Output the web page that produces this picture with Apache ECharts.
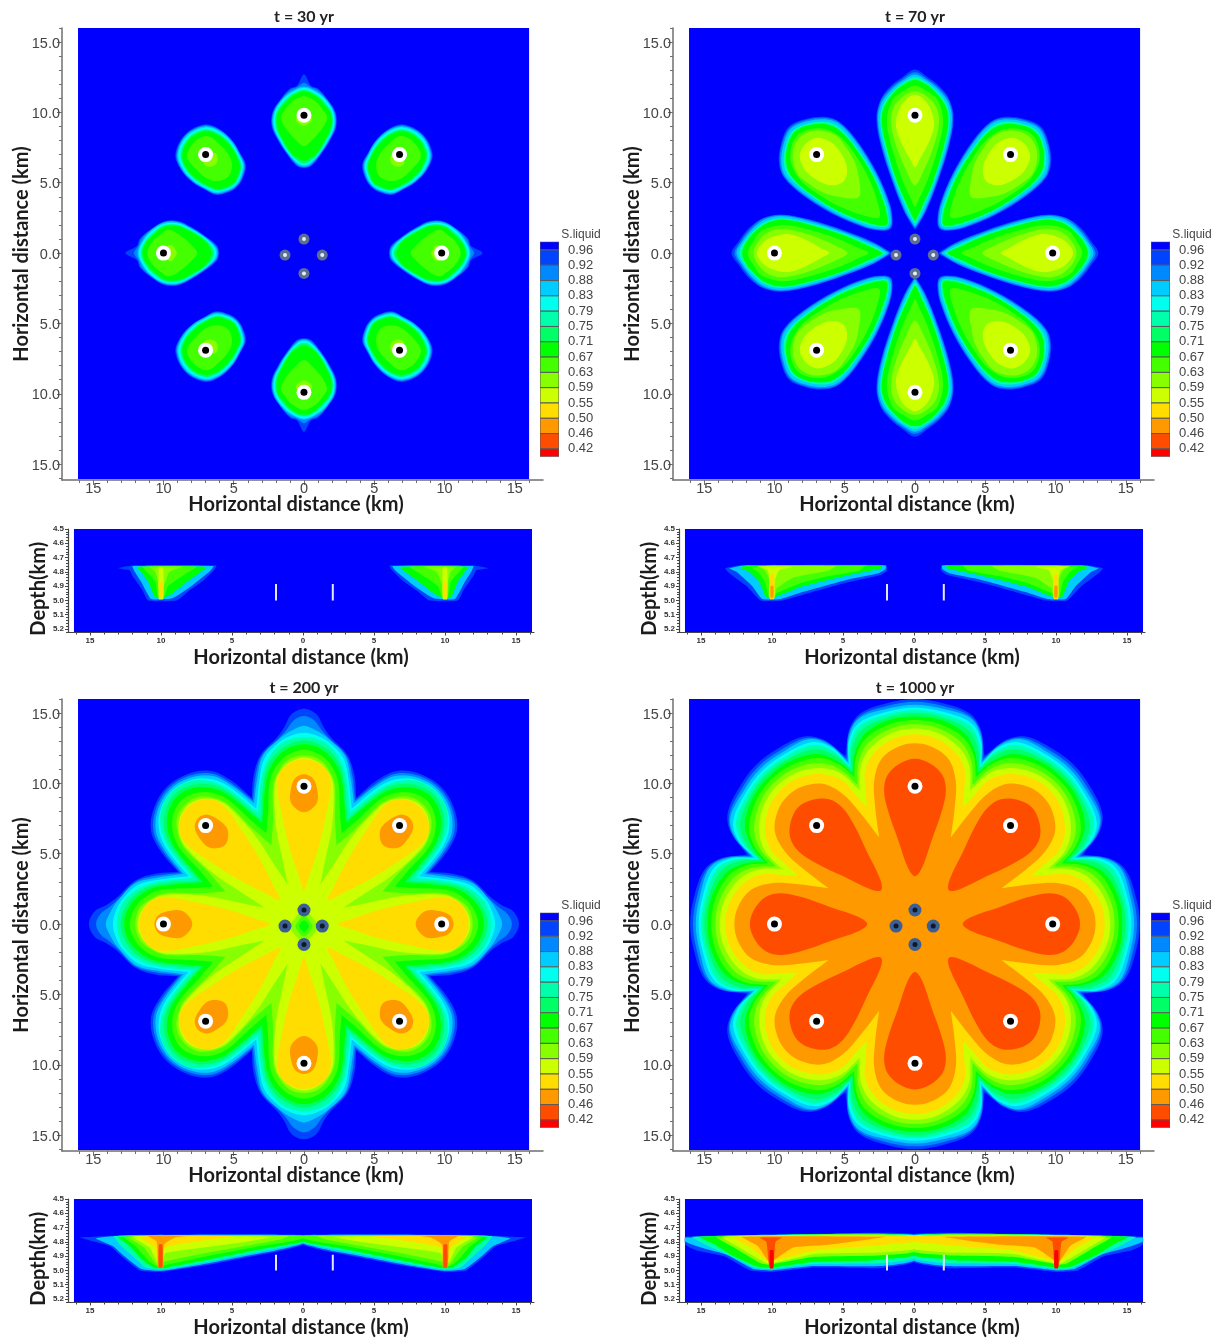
<!DOCTYPE html>
<html><head><meta charset="utf-8">
<style>html,body{margin:0;padding:0;background:#fff}#c{width:1225px;height:1339px}#c canvas{filter:blur(0.55px)}</style>
<script src="https://cdn.jsdelivr.net/npm/echarts@6/dist/echarts.min.js"></script>
</head><body><div id="c"></div>
<script>
const bandColors=['#0000ff','#0044ff','#0088ff','#00ccff','#00ffee','#00ffaa','#00ff66','#00ff00','#44ff00','#88ff00','#ccff00','#ffdd00','#ff9900','#ff4d00','#ff0000'];
const legendLabels=['0.96','0.92','0.88','0.83','0.79','0.75','0.71','0.67','0.63','0.59','0.55','0.50','0.46','0.42'];
const mapTicks=[-15,-10,-5,0,5,10,15];
const mapMinorTicks=[-16,-14,-13,-12,-11,-9,-8,-7,-6,-4,-3,-2,-1,1,2,3,4,6,7,8,9,11,12,13,14,16];
const depthTicks=[4.5,4.6,4.7,4.8,4.9,5.0,5.1,5.2];
const depthMinorTicks=[4.52,4.54,4.56,4.58,4.62,4.64,4.66,4.68,4.72,4.74,4.76,4.78,4.82,4.84,4.86,4.88,4.92,4.94,4.96,4.98,5.02,5.04,5.06,5.08,5.12,5.14,5.16,5.18,5.22];
const panelTitles=['t = 30 yr','t = 70 yr','t = 200 yr','t = 1000 yr'];
const wellsX=[0,6.8,9.8,6.8,0,-7,-10,-7];
const wellsY=[9.8,7,0,-6.9,-9.9,-6.9,0,7];
const innerX=[0,1.3,0,-1.35];
const innerY=[1,-0.14,-1.45,-0.14];
const wellTraceX=[2.1,-1.9];
const wellTraceTop=[4.885,4.885,4.89,4.89];
const wellTraceBottom=5.0;

// contour outlines in km: [distance along the lobe axis, distance across it]; a = N/E/S/W lobes, d = diagonal lobes
const t30Islands=[
{b:1,a:[[12.7,0],[11.9,.5],[11.7,1],[10.9,1.7],[10,2.25],[9,2.3],[8,1.85],[7,1.2],[6.2,.55],[6.05,0]],d:[[11.95,0],[11.45,1.5],[10.4,2],[9.2,2.05],[8.2,1.8],[7.35,1.5],[6.85,.7],[6.7,0]]},
{b:2,a:[[12.1,0],[11.8,.5],[11.6,1],[10.9,1.65],[10,2.2],[9,2.25],[8,1.8],[7,1.15],[6.25,.5],[6.1,0]],d:[[11.9,0],[11.4,1.45],[10.4,1.97],[9.2,2.02],[8.2,1.77],[7.4,1.47],[6.9,.7],[6.75,0]]},
{b:3,a:[[11.85,0],[11.5,.9],[10.9,1.6],[10,2.15],[9,2.2],[8,1.75],[7,1.1],[6.3,.45],[6.15,0]],d:[[11.85,0],[11.35,1.4],[10.35,1.92],[9.2,1.98],[8.2,1.72],[7.45,1.42],[6.95,.65],[6.8,0]]},
{b:4,a:[[11.75,0],[11.42,.87],[10.85,1.55],[10,2.07],[9,2.12],[8,1.68],[7,1.03],[6.38,.42],[6.25,0]],d:[[11.75,0],[11.3,1.33],[10.3,1.85],[9.2,1.9],[8.2,1.66],[7.5,1.35],[7.02,.62],[6.88,0]]},
{b:6,a:[[11.6,0],[11.3,.82],[10.7,1.47],[9.95,1.97],[9,2.02],[8,1.58],[7,.93],[6.5,.35],[6.4,0]],d:[[11.6,0],[11.2,1.22],[10.25,1.72],[9.2,1.78],[8.2,1.54],[7.52,1.22],[7.12,.55],[6.98,0]]},
{b:7,a:[[11.5,0],[11.2,.78],[10.6,1.4],[9.95,1.88],[9,1.92],[8,1.48],[7,.83],[6.65,.28],[6.55,0]],d:[[11.5,0],[11.1,1.15],[10.25,1.62],[9.2,1.68],[8.2,1.45],[7.55,1.12],[7.2,.5],[7.05,0]]},
{b:8,a:[[11.15,0],[10.75,.85],[10.1,1.4],[9.7,1.65],[9.2,1.5],[8.6,1.1],[8,.55],[7.6,0]],d:[[11.1,0],[10.75,1.02],[9.6,1.22],[8.6,1.12],[7.95,.7],[7.65,0]]},
{b:9,a:[[9.8,0],[9.7,.5],[9.4,.55],[9.15,.25],[9.05,0]],d:[[9.8,0],[9.6,.5],[9.3,.55],[9,.3],[8.9,0]]}
];
const t70Islands=[
{b:1,a:[[13.05,0],[12.5,.9],[11.8,1.8],[10.8,2.5],[9.5,2.75],[7.5,2.4],[5,1.6],[3,.8],[1.8,.12],[1.7,0]],d:[[12.7,0],[12.2,1.3],[11.4,2.3],[10.4,2.8],[8.6,2.75],[6,2.15],[3.8,1.25],[2.8,.55],[2.45,0]]},
{b:2,a:[[12.85,0],[12.4,.85],[11.7,1.75],[10.8,2.45],[9.5,2.7],[7.5,2.35],[5,1.55],[3,.75],[1.9,.1],[1.8,0]],d:[[12.6,0],[12.15,1.25],[11.35,2.25],[10.4,2.75],[8.6,2.7],[6,2.1],[3.8,1.2],[2.8,.5],[2.5,0]]},
{b:3,a:[[12.7,0],[12.3,.8],[11.6,1.7],[10.7,2.38],[9.5,2.63],[7.5,2.27],[5,1.47],[3,.67],[2,.1],[1.9,0]],d:[[12.5,0],[12.05,1.2],[11.25,2.2],[10.35,2.67],[8.6,2.62],[6,2.02],[3.8,1.12],[2.85,.45],[2.6,0]]},
{b:5,a:[[12.5,0],[12.15,.8],[11.45,1.62],[10.6,2.25],[9.45,2.48],[7.5,2.13],[5,1.35],[3.15,.58],[2.2,.1],[2.1,0]],d:[[12.3,0],[11.9,1.1],[11.1,2.1],[10.2,2.5],[8.5,2.42],[6,1.88],[3.9,1],[3,.38],[2.75,0]]},
{b:7,a:[[12.3,0],[12,.8],[11.35,1.55],[10.5,2.15],[9.4,2.38],[7.5,2.02],[5,1.25],[3.3,.5],[2.4,.08],[2.3,0]],d:[[12.15,0],[11.8,1.05],[10.95,2],[10,2.37],[8.4,2.3],[6,1.75],[4,.9],[3.1,.33],[2.85,0]]},
{b:8,a:[[11.9,0],[11.5,.85],[10.9,1.6],[9.4,2],[7.5,1.65],[5.2,.9],[3.9,.3],[3.3,0]],d:[[11.85,0],[11.45,1.05],[10.6,1.8],[9.3,2.1],[7.8,1.9],[6,1.4],[4.4,.65],[3.6,0]]},
{b:9,a:[[11.5,0],[11.1,.9],[10.3,1.55],[9.2,1.7],[7.5,1.3],[5.6,.5],[4.8,0]],d:[[11.6,0],[11.2,1.1],[10,1.9],[8.8,1.85],[7.5,1.5],[6.4,.8],[5.8,.3],[5.65,0]]},
{b:10,a:[[11.25,0],[10.8,.75],[10,1.2],[9,1.35],[7.8,.95],[6.6,.3],[6.1,0]],d:[[11,0],[10.7,.9],[9.8,1.35],[9,1.35],[8,1.05],[7.4,.55],[7.2,0]]}
];
const t200Merged=[
{b:1,a:[[15.3,0],[14.9,.9],[14,1.4],[13.3,1.9],[12,3.1],[10.5,3.6],[8.96,3.71]],d:[[13.8,0],[13.4,1.7],[12.4,3],[10.9,3.55],[8.96,3.71]]},
{b:2,a:[[14.8,0],[14.5,.7],[13.8,1.25],[13.2,1.8],[12,3],[10.5,3.45],[8.8,3.64]],d:[[13.65,0],[13.25,1.65],[12.25,2.9],[10.8,3.42],[8.8,3.64]]},
{b:3,a:[[14.1,0],[13.8,.8],[13.3,1.6],[12,2.9],[10.5,3.3],[8.6,3.56]],d:[[13.5,0],[13.1,1.6],[12.1,2.8],[10.7,3.3],[8.6,3.56]]},
{b:4,a:[[13.6,0],[13.4,.9],[12.9,1.8],[11.8,2.8],[10.4,3.15],[8.2,3.4]],d:[[13.35,0],[12.9,1.6],[11.9,2.65],[10.6,3.15],[8.2,3.4]]},
{b:5,a:[[13.3,0],[12.9,1.5],[11.8,2.5],[10.4,3],[7.9,3.27]]},
{b:6,a:[[13.05,0],[12.6,1.4],[11.6,2.4],[10.3,2.85],[7.5,3.1]]},
{b:7,a:[[12.8,0],[12.4,1.3],[11.4,2.25],[10.2,2.7],[7.2,2.98]]},
{b:8,a:[[12.4,0],[12,1.2],[11.1,2.05],[10,2.45],[8,2.55],[6.47,2.68]]},
{b:9,a:[[12,0],[11.7,1.1],[10.8,1.85],[9.8,2.2],[7.5,2.2],[5.6,2.32]]},
{b:10,a:[[11.85,0],[11.5,1.05],[10.7,1.8],[9.7,2.1],[7,2],[4.5,1.5],[2.8,1.16]]}
];
const t200Islands=[
{b:11,a:[[11.7,0],[11.4,1.1],[10.7,1.75],[9.7,1.9],[7.7,1.55],[5.5,1.05],[3.5,.4],[2.4,0]]},
{b:12,a:[[10.65,0],[10.35,.65],[9.5,.95],[8.7,.95],[8.15,.5],[7.95,0]]}
];
const t200Centre=[
{b:9,p:[[0,1],[.7,.35],[1,-.15],[.7,-.7],[0,-1.25],[-.7,-.7],[-1,-.15],[-.7,.35]]},
{b:8,p:[[0,.6],[.55,0],[.6,-.15],[.5,-.4],[0,-.9],[-.5,-.4],[-.6,-.15],[-.55,0]]},
{b:7,p:[[0,.25],[.35,-.15],[0,-.55],[-.35,-.15]]}
];
const t1000Merged=[
{b:1,a:[[16,0],[15.7,2],[15,3.85],[13.9,4.65],[11.95,4.95]]},
{b:2,a:[[15.8,0],[15.5,2],[14.8,3.9],[13.6,4.7],[11.75,4.86]]},
{b:3,a:[[15.6,0],[15.3,2],[14.6,4],[13.3,4.7],[11.55,4.78]]},
{b:4,a:[[15.4,0],[15.1,2],[14.3,4],[13,4.7],[11.35,4.7]]},
{b:5,a:[[15.2,0],[14.9,1.95],[14.1,3.9],[12.7,4.6],[11.2,4.63]]},
{b:6,a:[[15,0],[14.7,1.9],[13.8,3.8],[12.4,4.5],[11,4.55]]},
{b:7,a:[[14.75,0],[14.5,1.85],[13.5,3.6],[12.1,4.3],[10.7,4.44]]},
{b:8,a:[[14.5,0],[14.2,1.8],[13.2,3.5],[11.9,4.2],[10.45,4.33]]},
{b:9,a:[[14.2,0],[13.9,1.7],[12.9,3.3],[11.6,4],[9.9,4.1]]},
{b:10,a:[[13.9,0],[13.6,1.6],[12.6,3.1],[11.3,3.85],[9.5,3.94]]},
{b:11,a:[[13.5,0],[13.2,1.5],[12.2,2.9],[10.9,3.55],[9.5,3.5],[8.3,3.44]]},
{b:12,a:[[12.85,0],[12.6,1.2],[11.7,2.4],[10.2,2.9],[8.5,2.85],[6.15,2.55]]}
];
const t1000Islands=[
{b:13,a:[[11.75,0],[11.4,1.1],[10.6,1.95],[9.5,2.2],[8,1.9],[6,1.2],[4,.5],[3.4,0]]}
];
// cross-section outlines, [km from centre, depth km], mirrored about 0
const d30=[
{b:1,p:[[13.05,4.775],[12,4.755],[6.1,4.755],[6.2,4.78],[7,4.86],[8,4.93],[8.9,5],[10.9,5],[11.3,4.93],[12,4.83],[12.2,4.79]]},
{b:3,p:[[12,4.76],[6.3,4.76],[6.5,4.79],[8,4.91],[9.2,4.985],[10.7,4.99],[11.4,4.87],[11.9,4.79]]},
{b:7,p:[[11.7,4.765],[6.8,4.765],[7.2,4.8],[8.3,4.88],[9.5,4.97],[10.4,4.98],[10.9,4.87],[11.4,4.8]]},
{b:8,p:[[11.3,4.765],[7.5,4.765],[8.2,4.81],[9.5,4.9],[9.8,4.98],[10.2,4.98],[10.4,4.87],[11,4.8]]},
{b:9,p:[[10.8,4.765],[8.5,4.765],[9.4,4.8],[9.8,4.9],[9.85,4.99],[10.15,4.99],[10.2,4.88],[10.4,4.8]]},
{b:10,p:[[10.15,4.77],[9.85,4.77],[9.85,4.99],[10.15,4.99]]},
{b:11,p:[[10.1,4.87],[9.9,4.87],[9.9,4.98],[10.1,4.98]]}
];
const d70=[
{b:1,p:[[13.3,4.775],[12.3,4.755],[1.95,4.752],[1.9,4.79],[2.3,4.82],[4.7,4.875],[7.8,4.96],[9.3,5],[10.8,5],[11.8,4.9],[13,4.81]]},
{b:3,p:[[13,4.775],[12,4.755],[2,4.755],[2,4.78],[2.5,4.81],[4.7,4.855],[7.8,4.94],[9.4,4.99],[10.7,4.99],[11.4,4.9],[12.5,4.8]]},
{b:7,p:[[12.3,4.77],[11.8,4.76],[2.3,4.76],[2.3,4.775],[4.7,4.825],[7.8,4.9],[9.6,4.97],[10.4,4.98],[10.9,4.87],[11.6,4.8]]},
{b:8,p:[[11.5,4.765],[3.5,4.76],[3.8,4.79],[6,4.83],[8,4.88],[9.7,4.95],[10.2,4.98],[10.5,4.87],[11,4.8]]},
{b:9,p:[[11,4.76],[5.5,4.76],[6,4.79],[8.5,4.84],[9.7,4.92],[9.8,4.98],[10.2,4.98],[10.2,4.85],[10.5,4.79]]},
{b:10,p:[[10.8,4.765],[8.5,4.765],[9.5,4.79],[9.8,4.86],[9.85,4.97],[10.15,4.97],[10.15,4.86],[10.3,4.79]]},
{b:11,p:[[10.15,4.82],[9.85,4.82],[9.85,4.99],[10.15,4.99]]},
{b:12,p:[[10.1,4.9],[9.9,4.9],[9.9,4.98],[10.1,4.98]]}
];
const d200=[
{b:1,p:[[0,4.752],[12,4.752],[15.7,4.77],[15,4.79],[13.6,4.83],[12.8,4.9],[11.5,5],[10,5.01],[7.2,4.97],[3,4.89],[1.9,4.87],[0,4.82]]},
{b:3,p:[[0,4.755],[12.5,4.755],[14.6,4.775],[13.4,4.83],[12.6,4.9],[11.4,4.99],[10,5.003],[7.2,4.96],[3,4.88],[2,4.862],[0,4.812]]},
{b:5,p:[[0,4.757],[13.3,4.76],[12.8,4.83],[12,4.9],[11.1,4.98],[10,4.995],[7.2,4.95],[3,4.868],[0,4.806]]},
{b:7,p:[[0,4.76],[13,4.765],[12.2,4.83],[11.4,4.92],[10.5,4.98],[9.8,4.985],[7.2,4.935],[3,4.852],[0,4.8]]},
{b:8,p:[[0,4.76],[12.6,4.765],[11.8,4.83],[10.9,4.93],[10.2,4.975],[9.8,4.965],[7.2,4.91],[3,4.83],[1,4.8],[0,4.775]]},
{b:9,p:[[1,4.76],[12.3,4.765],[11.2,4.84],[10.4,4.95],[10.1,4.97],[9.8,4.94],[7.2,4.885],[3,4.81],[1.5,4.78]]},
{b:10,p:[[2.2,4.765],[12,4.762],[10.8,4.84],[10.3,4.94],[9.9,4.94],[9.7,4.88],[7,4.84],[4,4.8]]},
{b:11,p:[[5,4.76],[11.5,4.765],[10.4,4.84],[10.2,4.96],[9.9,4.96],[9.7,4.84],[7,4.79],[5.5,4.77]]},
{b:12,p:[[8.2,4.76],[10.9,4.76],[10.3,4.8],[10.2,4.98],[9.85,4.98],[9.8,4.82],[9,4.77]]},
{b:13,p:[[9.9,4.82],[10.15,4.82],[10.15,4.98],[9.9,4.98]]}
];
const d1000=[
{b:1,p:[[0,4.745],[10,4.752],[16.1,4.765],[16.1,4.82],[15.3,4.86],[13.4,4.9],[11.55,5],[9.9,5.01],[7.1,4.98],[2.4,4.985],[2,4.98],[0,4.94]]},
{b:3,p:[[0,4.75],[16.1,4.77],[16.1,4.8],[15,4.84],[13.2,4.89],[11.3,4.99],[10,5],[7.1,4.97],[2.4,4.97],[0,4.93]]},
{b:5,p:[[0,4.752],[15.6,4.765],[14.5,4.83],[13,4.895],[11.1,4.985],[10,4.99],[7,4.955],[2.4,4.95],[0,4.915]]},
{b:7,p:[[0,4.755],[15.1,4.765],[14,4.82],[12.9,4.89],[11,4.975],[10,4.98],[7,4.94],[3,4.93],[2,4.92],[0,4.895]]},
{b:9,p:[[0,4.755],[13.9,4.765],[12.5,4.85],[10.8,4.95],[10.2,4.96],[7,4.905],[2.5,4.895],[0,4.87]]},
{b:10,p:[[0,4.757],[13.5,4.765],[12.3,4.84],[10.6,4.94],[10.2,4.955],[7,4.885],[2.5,4.875],[0,4.85]]},
{b:11,p:[[0,4.76],[12.7,4.77],[11.5,4.84],[10.4,4.93],[10.2,4.94],[7,4.86],[3,4.83],[2,4.82],[0,4.8]]},
{b:12,p:[[2,4.765],[12.1,4.765],[11,4.83],[10.3,4.93],[9.9,4.93],[8.5,4.84],[6,4.82],[3,4.78]]},
{b:13,p:[[9.3,4.77],[10.9,4.77],[10.4,4.8],[10.2,4.97],[9.9,4.97],[9.75,4.8]]},
{b:14,p:[[9.9,4.86],[10.15,4.86],[10.15,4.985],[9.9,4.985]]}
];
const mapSets=[{islands:t30Islands},{islands:t70Islands},{merged:t200Merged,islands:t200Islands,centre:t200Centre},{merged:t1000Merged,islands:t1000Islands}];
const depthSets=[d30,d70,d200,d1000];

function lobe(half,k){
  const th=k*Math.PI/4,ux=Math.sin(th),uy=Math.cos(th),vx=Math.cos(th),vy=-Math.sin(th);
  const pts=[];
  for(let i=half.length-1;i>0;i--){const[u,v]=half[i];pts.push([u*ux-v*vx,u*uy-v*vy]);}
  for(let i=0;i<half.length;i++){const[u,v]=half[i];pts.push([u*ux+v*vx,u*uy+v*vy]);}
  return pts;
}
function mapPolys(set){
  const out=[{c:bandColors[0],pts:[[-16.08,16.01],[16.02,16.01],[16.02,-16.06],[-16.08,-16.06]],raw:1}];
  (set.merged||[]).forEach(o=>{let pts=[];for(let k=0;k<8;k++){const h=(k%2&&o.d)?o.d:o.a;const l=lobe(h,k);pts=pts.concat(l);}out.push({c:bandColors[o.b],pts});});
  (set.islands||[]).forEach(o=>{for(let k=0;k<8;k++){const h=(k%2&&o.d)?o.d:o.a;const l=lobe(h,k);l.pop();out.push({c:bandColors[o.b],pts:l});}});
  (set.centre||[]).forEach(o=>out.push({c:bandColors[o.b],pts:o.p}));
  return out;
}
function depthPolys(list){
  const out=[{c:bandColors[0],pts:[[-16.13,4.5],[16.13,4.5],[16.13,5.222],[-16.13,5.222]],raw:1}];
  list.forEach(o=>{out.push({c:bandColors[o.b],pts:o.p});out.push({c:bandColors[o.b],pts:o.p.map(q=>[-q[0],q[1]])});});
  return out;
}
function polySeries(polys,xi,yi,smooth){
  return {type:'custom',coordinateSystem:'cartesian2d',xAxisIndex:xi,yAxisIndex:yi,silent:true,clip:true,animation:false,
    data:polys.map((p,i)=>[i]),
    renderItem(params,api){
      const p=polys[params.dataIndex];
      return {type:'polygon',shape:{points:p.pts.map(q=>api.coord(q)),smooth:p.raw?0:smooth},
        style:{fill:p.c,stroke:p.s||null,lineWidth:p.s?1:0}};
    }};
}
const grid=[],xAxis=[],yAxis=[],series=[],title=[];
function addGrid(g,xa,ya){g.outerBoundsMode='none';grid.push(g);const gi=grid.length-1;
  xa.forEach(a=>{a.gridIndex=gi;xAxis.push(a);});ya.forEach(a=>{a.gridIndex=gi;yAxis.push(a);});
  return [xAxis.length-xa.length,yAxis.length-ya.length];}
const axisGrey='#6f6f6f',labelGrey='#444';
const absFmt=v=>String(Math.abs(v));
const abs1=v=>Math.abs(v).toFixed(1);
const nameFont={fontFamily:'Lato',fontWeight:'bold',fontSize:20,color:'#1c1c1c'};
[0,1,2,3].forEach(i=>{
  const ox=i%2?611:0,oy=i>1?671:0;
  title.push({text:panelTitles[i],left:299+ox,top:4+oy,textAlign:'center',textStyle:{fontFamily:'Lato',fontWeight:'bold',fontSize:16,color:'#222'}});
  const xr=[-17.22,17.01],yr=[-16.13,16];
  const mainX={type:'value',min:xr[0],max:xr[1],position:'bottom',name:'Horizontal distance (km)',nameLocation:'middle',nameGap:15,nameMoveOverlap:false,
    nameTextStyle:Object.assign({padding:[0,13,0,0]},nameFont),splitLine:{show:false},
    axisLine:{lineStyle:{color:axisGrey,width:1.5},onZero:false},
    axisTick:{customValues:mapTicks,length:5,lineStyle:{color:axisGrey}},
    axisLabel:{customValues:mapTicks,formatter:absFmt,margin:1,fontFamily:'Liberation Sans',fontSize:14.5,color:labelGrey}};
  const minorX={type:'value',min:xr[0],max:xr[1],position:'bottom',splitLine:{show:false},axisLine:{show:false,onZero:false},
    axisTick:{customValues:mapMinorTicks,length:3,lineStyle:{color:axisGrey}},axisLabel:{show:false}};
  const mainY={type:'value',min:yr[0],max:yr[1],position:'left',name:'Horizontal distance (km)',nameLocation:'middle',nameGap:30,nameMoveOverlap:false,
    nameTextStyle:nameFont,splitLine:{show:false},
    axisLine:{lineStyle:{color:axisGrey,width:1.5},onZero:false},
    axisTick:{customValues:mapTicks,length:5,lineStyle:{color:axisGrey}},
    axisLabel:{customValues:mapTicks,formatter:abs1,margin:2,verticalAlign:'top',lineHeight:3,fontFamily:'Liberation Sans',fontSize:14.5,color:labelGrey}};
  const minorY={type:'value',min:yr[0],max:yr[1],position:'left',splitLine:{show:false},axisLine:{show:false,onZero:false},
    axisTick:{customValues:mapMinorTicks,length:3,lineStyle:{color:axisGrey}},axisLabel:{show:false}};
  const [xi,yi]=addGrid({left:62+ox,top:28+oy,width:481,height:452},[mainX,minorX],[mainY,minorY]);
  series.push(polySeries(mapPolys(mapSets[i]),xi,yi,0.35));
  const pts=wellsX.map((x,k)=>[x,wellsY[k]]),inner=innerX.map((x,k)=>[x,innerY[k]]);
  const late=i>1;
  const sc=(data,size,color)=>({type:'scatter',xAxisIndex:xi,yAxisIndex:yi,data,symbol:'circle',symbolSize:size,silent:true,animation:false,itemStyle:{color,opacity:1},z:5});
  series.push(sc(inner,late?13:11,late?'#3c5f96':'#5c6f92'));
  series.push(sc(inner,late?5:4,late?'#101828':'#e8edf5'));
  series.push(sc(pts,15,'#ffffff'));
  series.push(sc(pts,7,'#000000'));
  // legend
  const legPolys=[];
  for(let b=0;b<15;b++){
    const a=b===0?-0.54:b-1,z=b===14?13.51:b;
    legPolys.push({c:bandColors[b],pts:[[0,a],[1,a],[1,z],[0,z]],raw:1,s:'#5a5a5a'});
  }
  const [lx,ly]=addGrid({left:540+ox,top:241.7+oy,width:19,height:215},
    [{type:'value',min:0,max:1,show:false}],
    [{type:'value',min:-0.54,max:13.51,inverse:true,position:'right',splitLine:{show:false},axisLine:{show:false},axisTick:{show:false},
      axisLabel:{customValues:legendLabels.map((_,k)=>k),formatter:v=>legendLabels[v],margin:9,fontFamily:'Liberation Sans',fontSize:13,color:labelGrey}}]);
  series.push(polySeries(legPolys,lx,ly,0));
  title.push({text:'S.liquid',left:576+ox,top:224+oy,textAlign:'center',textStyle:{fontFamily:'Liberation Sans',fontWeight:'normal',fontSize:12,color:labelGrey}});
  // cross-section
  const dox=i%2?611:0,doy=i>1?670:0;
  const dxr=[-16.55,16.27],dyr=[4.5,5.225];
  const dMainX={type:'value',min:dxr[0],max:dxr[1],position:'bottom',name:'Horizontal distance (km)',nameLocation:'middle',nameGap:15,nameMoveOverlap:false,
    nameTextStyle:nameFont,splitLine:{show:false},
    axisLine:{lineStyle:{color:'#444',width:1.2},onZero:false},
    axisTick:{customValues:mapTicks,length:3,lineStyle:{color:'#444'}},
    axisLabel:{customValues:mapTicks,formatter:absFmt,margin:4,fontFamily:'Liberation Sans',fontSize:8,fontWeight:'bold',color:'#333'}};
  const dMinorX={type:'value',min:dxr[0],max:dxr[1],position:'bottom',splitLine:{show:false},axisLine:{show:false,onZero:false},
    axisTick:{customValues:mapMinorTicks,length:2,lineStyle:{color:'#444'}},axisLabel:{show:false}};
  const dMainY={type:'value',min:dyr[0],max:dyr[1],inverse:true,position:'left',name:'Depth(km)',nameLocation:'middle',nameGap:19,nameMoveOverlap:false,
    nameTextStyle:Object.assign({padding:[0,16,0,0]},nameFont),splitLine:{show:false},
    axisLine:{lineStyle:{color:'#444',width:1.2},onZero:false},
    axisTick:{customValues:depthTicks,length:3,lineStyle:{color:'#444'}},
    axisLabel:{customValues:depthTicks,formatter:v=>v.toFixed(1),margin:4,fontFamily:'Liberation Sans',fontSize:8,fontWeight:'bold',color:'#333'}};
  const dMinorY={type:'value',min:dyr[0],max:dyr[1],inverse:true,position:'left',splitLine:{show:false},axisLine:{show:false,onZero:false},
    axisTick:{customValues:depthMinorTicks,length:2,lineStyle:{color:'#444'}},axisLabel:{show:false}};
  const [dxi,dyi]=addGrid({left:68+dox,top:529+doy,width:466,height:103.5},[dMainX,dMinorX],[dMainY,dMinorY]);
  series.push(polySeries(depthPolys(depthSets[i]),dxi,dyi,0.15));
  wellTraceX.forEach(x=>series.push({type:'line',xAxisIndex:dxi,yAxisIndex:dyi,data:[[x,wellTraceTop[i]],[x,wellTraceBottom]],symbol:'none',silent:true,animation:false,z:5,lineStyle:{color:'#e6e6ff',width:2}}));
});
const chart=echarts.init(document.getElementById('c'),null,{renderer:'canvas'});
chart.setOption({animation:false,backgroundColor:'#fff',title,grid,xAxis,yAxis,series});
</script></body></html>
